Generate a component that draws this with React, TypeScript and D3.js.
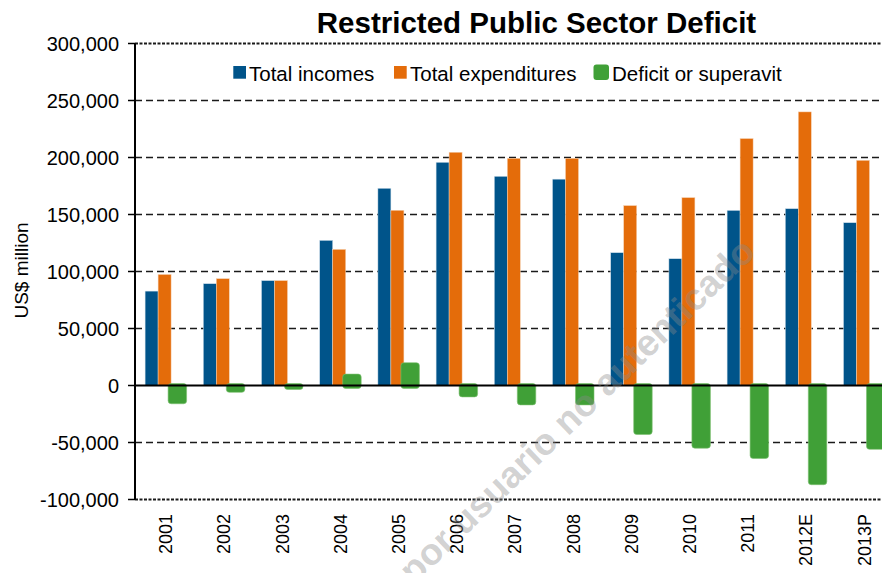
import React from "react";
import * as d3 from "d3";

const categories = ["2001","2002","2003","2004","2005","2006","2007","2008","2009","2010","2011","2012E","2013P"];
const totalIncomes = [82800, 89300, 92000, 127300, 173000, 195800, 183500, 181000, 116500, 111200, 153600, 155100, 142800];
const totalExpenditures = [97400, 93700, 92000, 119400, 153700, 204600, 199300, 199300, 157800, 164800, 216600, 240000, 197500];
const deficit = [-16000, -6000, -2000, 10000, 20000, -10000, -17000, -17000, -43000, -55000, -64000, -87000, -56000];
const yTicks = [-100000, -50000, 0, 50000, 100000, 150000, 200000, 250000, 300000];
const legendItems = ["Total incomes", "Total expenditures", "Deficit or superavit"];

const BLUE = "#00548A";
const ORANGE = "#E46C0A";
const GREEN = "#40A037";
const FONT = "'Liberation Sans', Arial, sans-serif";

export default function App() {
  const W = 882, H = 573;
  const left = 135;
  const step = 58.2;
  const x = d3.scaleBand<string>().domain(categories).range([left, left + step * categories.length]).padding(0);
  const y = d3.scaleLinear().domain([-100000, 300000]).range([499.5, 43.5]);
  const fmt = (v: number) => d3.format(",")(v).replace("\u2212", "-");
  const c = (cat: string) => (x(cat) as number) + x.bandwidth() / 2;
  const y0 = y(0);

  return (
    <svg width={W} height={H} style={{ position: "absolute", left: 0, top: 0, background: "#fff" }} fontFamily={FONT}>
      <rect x={0} y={0} width={W} height={H} fill="#fff" />
      {/* gridlines */}
      {yTicks.map((t) => {
        const yy = y(t);
        if (t === 0) return null;
        const edge = t === 300000 || t === -100000;
        return (
          <line key={"g" + t} x1={left} x2={W} y1={yy} y2={yy} stroke="#1a1a1a"
            strokeWidth={edge ? 2 : 1.4} strokeDasharray={edge ? "3,1.5" : "7,4"} />
        );
      })}
      {/* bars */}
      {categories.map((cat, i) => {
        const cx = c(cat);
        const yb = y(totalIncomes[i]);
        const yo = y(totalExpenditures[i]);
        const d = deficit[i];
        const yd = y(d);
        const gTop = Math.min(yd, y0) - (d < 0 ? 2 : 0);
        const gBot = Math.max(yd, y0) + (d > 0 ? 3 : 0);
        return (
          <g key={cat}>
            <rect x={cx - 19} y={yb} width={13} height={y0 - yb} fill={BLUE} stroke="#cfe0ec" strokeWidth={0.5} />
            <rect x={cx - 6} y={yo} width={13} height={y0 - yo} fill={ORANGE} stroke="#f6d3b5" strokeWidth={0.5} />
            <rect x={cx + 4} y={gTop} width={18.5} height={Math.max(gBot - gTop, 6)} rx={3} fill={GREEN} stroke="#7cc070" strokeWidth={0.6} />
          </g>
        );
      })}
      {/* zero line */}
      <line x1={left} x2={W} y1={y0} y2={y0} stroke="#000" strokeWidth={2.2} />
      {/* y axis */}
      <line x1={left} x2={left} y1={y(300000)} y2={y(-100000)} stroke="#000" strokeWidth={2} />
      {yTicks.map((t) => (
        <g key={"t" + t}>
          <line x1={left - 7} x2={left} y1={y(t)} y2={y(t)} stroke="#000" strokeWidth={1.5} />
          <text x={119} y={y(t)} dy="0.36em" textAnchor="end" fontSize={20} fill="#000">{fmt(t)}</text>
        </g>
      ))}
      {/* y title */}
      <text transform="translate(28,270.5) rotate(-90)" textAnchor="middle" fontSize={19} fill="#000">US$ million</text>
      {/* x labels */}
      {categories.map((cat) => (
        <text key={"l" + cat} transform={`translate(${c(cat) + 8},514) rotate(-90)`} textAnchor="end" fontSize={18} fill="#000">{cat}</text>
      ))}
      {/* title */}
      <text x={536.5} y={32.5} textAnchor="middle" fontSize={29.5} fontWeight="bold" fill="#000">Restricted Public Sector Deficit</text>
      {/* legend */}
      <rect x={233.3} y={66} width={12.7} height={12.7} fill={BLUE} />
      <text x={249} y={80.5} fontSize={20.5} fill="#000">{legendItems[0]}</text>
      <rect x={394} y={66} width={12.7} height={12.7} fill={ORANGE} />
      <text x={410} y={80.5} fontSize={20.5} fill="#000">{legendItems[1]}</text>
      <rect x={593.5} y={64.5} width={15.5} height={15.5} rx={3} fill={GREEN} />
      <text x={612} y={80.5} fontSize={20.5} fill="#000">{legendItems[2]}</text>
      {/* watermark (on top, semi-transparent) */}
      <text x={757} y={254} transform="rotate(-44 757 254)" textAnchor="end" fontSize={37} fontWeight="bold"
        fill="#8a8a8a" fillOpacity={0.4}>por usuario no autenticado</text>
    </svg>
  );
}
